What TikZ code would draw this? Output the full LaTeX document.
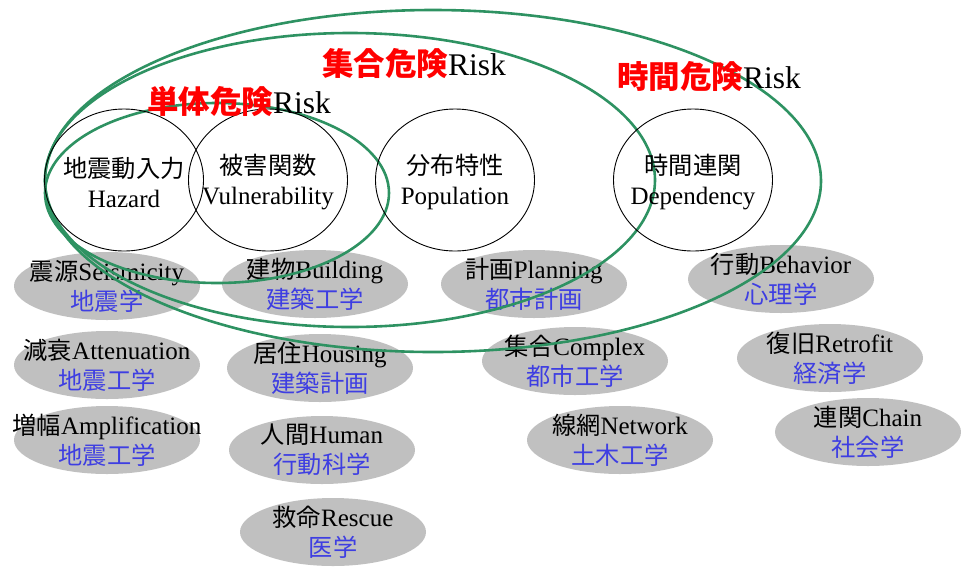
\documentclass[tikz,border=0pt]{standalone}
\usepackage{fontspec}
\setmainfont{Liberation Serif}
\newfontfamily\jp[Scale=0.97]{Noto Sans CJK JP}
\newfontfamily\jptitle{Noto Sans CJK JP}
\usetikzlibrary{shapes.geometric}
\definecolor{riskgreen}{RGB}{46,146,98}
\definecolor{fieldgray}{RGB}{192,192,192}
\definecolor{fieldblue}{RGB}{62,62,226}
\tikzset{
  fieldshape/.style={ellipse, fill=fieldgray, draw=none, inner sep=0pt,
    minimum width=186pt, minimum height=68pt},
  factorshape/.style={ellipse, draw=black, line width=0.9pt, inner sep=0pt,
    minimum width=159pt, minimum height=142pt},
  bodytext/.style={align=center, inner sep=0pt, font=\fontsize{25}{30}\selectfont},
  titletext/.style={anchor=base west, inner sep=0pt, font=\fontsize{31.5}{36}\selectfont},
  riskline/.style={draw=riskgreen, line width=2.6pt},
}
% gray field ellipse: name, x, y, subject line, discipline line
\newcommand\fieldblob[5]{%
  \node[fieldshape] (#1) at (#2,#3) {};
  \node[bodytext] (#1-t) at (#1) {#4\\{\color{fieldblue}\jp #5}};
}
% black risk-factor circle: name, x, y, japanese, english
\newcommand\factorblob[5]{%
  \node[factorshape] (#1) at (#2,#3) {};
  \node[bodytext] (#1-t) at ([yshift=-2pt]#1) {{\jp #4}\\#5};
}
\begin{document}
\begin{tikzpicture}[x=1pt,y=-1pt]
\useasboundingbox (0,0) rectangle (961,566);

% fields and disciplines
\fieldblob{seis}{107}{286}{{\jp 震源}Seismicity}{地震学}
\fieldblob{atten}{107}{365}{{\jp 減衰}Attenuation}{地震工学}
\fieldblob{ampl}{107}{440}{{\jp 増幅}Amplification}{地震工学}
\fieldblob{bldg}{315}{284}{{\jp 建物}Building}{建築工学}
\fieldblob{hous}{320}{368}{{\jp 居住}Housing}{建築計画}
\fieldblob{human}{322}{450}{{\jp 人間}Human}{行動科学}
\fieldblob{resc}{333}{532}{{\jp 救命}Rescue}{医学}
\fieldblob{plan}{534}{284}{{\jp 計画}Planning}{都市計画}
\fieldblob{cplx}{575}{361}{{\jp 集合}Complex}{都市工学}
\fieldblob{netw}{620}{440}{{\jp 線網}Network}{土木工学}
\fieldblob{behav}{781}{279}{{\jp 行動}Behavior}{心理学}
\fieldblob{retro}{830}{358}{{\jp 復旧}Retrofit}{経済学}
\fieldblob{chain}{868}{432}{{\jp 連関}Chain}{社会学}

% risk scopes
\draw[riskline] (217,193) ellipse [x radius=172, y radius=90];
\draw[riskline] (350,180) ellipse [x radius=305, y radius=147];
\draw[riskline] (433,181) ellipse [x radius=388, y radius=171];

% risk factors
\factorblob{hazard}{124}{180}{地震動入力}{Hazard}
\factorblob{vuln}{268}{180}{被害関数}{Vulnerability}
\factorblob{popu}{455}{180}{分布特性}{Population}
\factorblob{depe}{693}{180}{時間連関}{Dependency}

% scope titles
\node[titletext] (single) at (147,113) {{\jptitle\bfseries\color{red}単体危険}Risk};
\node[titletext] (complex) at (322,75) {{\jptitle\bfseries\color{red}集合危険}Risk};
\node[titletext] (temporal) at (617,88) {{\jptitle\bfseries\color{red}時間危険}Risk};
\end{tikzpicture}
\end{document}
